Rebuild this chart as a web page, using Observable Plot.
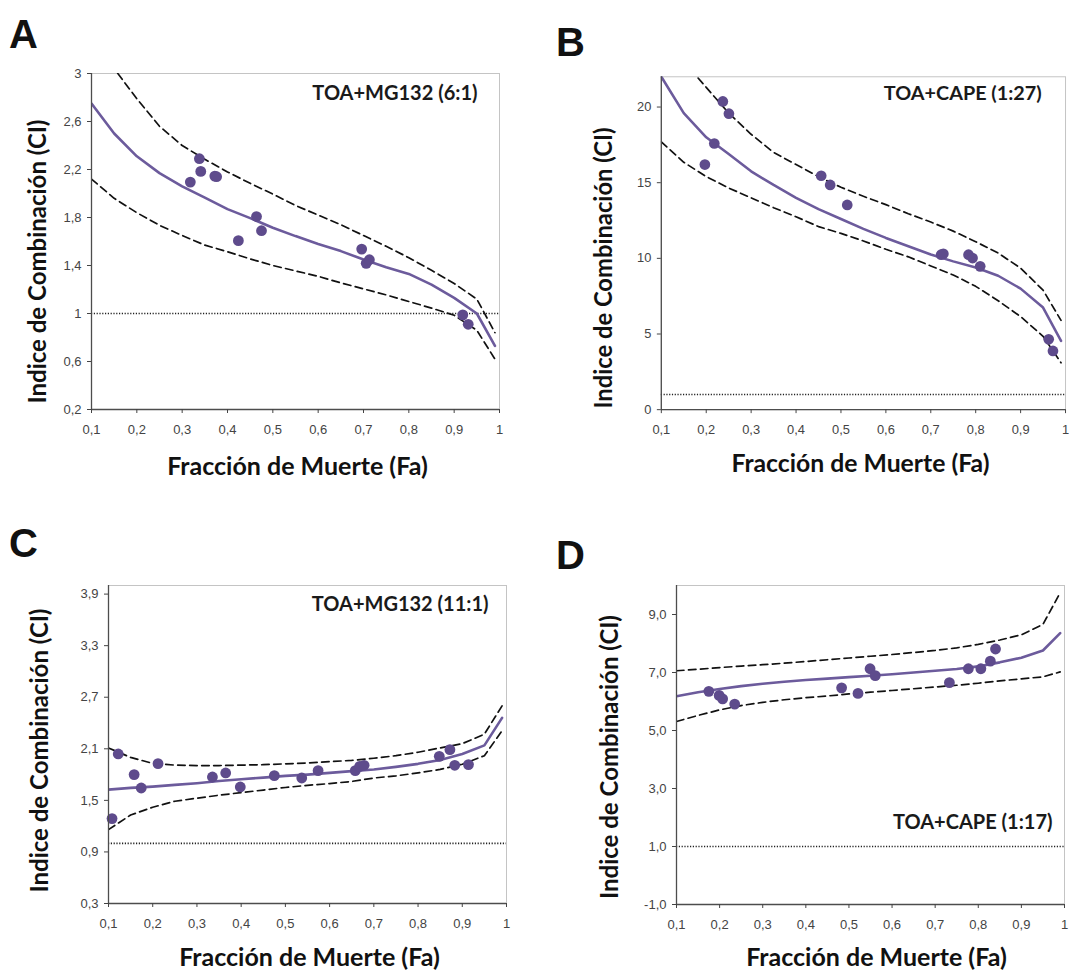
<!DOCTYPE html>
<html><head><meta charset="utf-8">
<script src="https://cdn.jsdelivr.net/npm/d3@7"></script>
<script src="https://cdn.jsdelivr.net/npm/@observablehq/plot@0.6"></script>
<style>
body{margin:0;background:#fff;overflow:hidden;}
#root{position:relative;width:1069px;height:972px;overflow:hidden;background:#fff;}
.panel{position:absolute;}
.letter{position:absolute;font-family:"Liberation Sans",Arial,sans-serif;font-weight:bold;font-size:40px;line-height:1;color:#111;}
</style></head><body><div id="root"></div>
<script>
// ---------- shared ----------
const faGrid = [0.1,0.15,0.2,0.25,0.3,0.35,0.4,0.45,0.5,0.55,0.6,0.65,0.7,0.75,0.8,0.85,0.9,0.95,0.99];
const xTicks = [0.1,0.2,0.3,0.4,0.5,0.6,0.7,0.8,0.9,1];
const xTickLabels = ["0,1","0,2","0,3","0,4","0,5","0,6","0,7","0,8","0,9","1"];
const refLine = [1];
const xTitle = "Fracción de Muerte (Fa)";
const yTitle = "Indice de Combinación (CI)";

// ---------- Panel A: TOA+MG132 (6:1) ----------
const aTag = "TOA+MG132 (6:1)";
const aYTicks = [0.2,0.6,1,1.4,1.8,2.2,2.6,3];
const aYTickLabels = ["0,2","0,6","1","1,4","1,8","2,2","2,6","3"];
const aCI    = [2.75,2.50,2.31,2.17,2.06,1.965,1.87,1.795,1.715,1.645,1.58,1.52,1.45,1.385,1.33,1.24,1.13,1.00,0.73];
const aUpper = [3.45,3.04,2.79,2.56,2.40,2.285,2.18,2.085,1.995,1.90,1.82,1.74,1.65,1.56,1.465,1.36,1.25,1.12,0.84];
const aLower = [2.12,1.96,1.84,1.735,1.65,1.57,1.515,1.455,1.40,1.355,1.31,1.255,1.205,1.155,1.10,1.045,0.985,0.86,0.62];
const aPtFa = [0.318,0.338,0.341,0.372,0.376,0.424,0.464,0.475,0.696,0.706,0.713,0.919,0.931];
const aPtCI = [2.095,2.29,2.184,2.145,2.14,1.607,1.808,1.69,1.537,1.418,1.448,0.989,0.91];

// ---------- Panel B: TOA+CAPE (1:27) ----------
const bTag = "TOA+CAPE (1:27)";
const bYTicks = [0,5,10,15,20];
const bYTickLabels = ["0","5","10","15","20"];
const bCI    = [22.0,19.6,18.0,16.9,15.75,14.85,14.0,13.25,12.6,11.95,11.35,10.8,10.25,9.8,9.4,8.85,8.0,6.75,4.55];
const bUpper = [25.0,23.0,21.3,19.6,18.2,17.0,16.2,15.4,14.7,14.1,13.55,12.95,12.4,11.8,11.1,10.35,9.35,7.9,5.9];
const bLower = [17.7,16.35,15.4,14.65,14.0,13.35,12.75,12.1,11.65,11.15,10.6,10.1,9.5,8.9,8.15,7.2,6.15,4.85,3.1];
const bPtFa = [0.197,0.218,0.237,0.2505,0.456,0.476,0.514,0.723,0.728,0.784,0.793,0.81,0.9625,0.972];
const bPtCI = [16.2,17.59,20.37,19.56,15.46,14.85,13.53,10.24,10.3,10.24,10.02,9.47,4.65,3.88];

// ---------- Panel C: TOA+MG132 (11:1) ----------
const cTag = "TOA+MG132 (11:1)";
const cYTicks = [0.3,0.9,1.5,2.1,2.7,3.3,3.9];
const cYTickLabels = ["0,3","0,9","1,5","2,1","2,7","3,3","3,9"];
const cCI    = [1.625,1.645,1.66,1.68,1.70,1.725,1.745,1.765,1.785,1.80,1.82,1.84,1.86,1.89,1.925,1.97,2.04,2.14,2.46];
const cUpper = [2.11,2.00,1.93,1.91,1.905,1.905,1.91,1.915,1.925,1.935,1.95,1.965,1.99,2.02,2.06,2.11,2.16,2.27,2.60];
const cLower = [1.16,1.33,1.42,1.49,1.525,1.56,1.59,1.62,1.65,1.675,1.695,1.72,1.76,1.785,1.82,1.86,1.92,2.02,2.31];
const cPtFa = [0.108,0.122,0.158,0.174,0.212,0.335,0.365,0.398,0.475,0.537,0.574,0.658,0.668,0.678,0.848,0.872,0.883,0.914];
const cPtCI = [1.288,2.04,1.80,1.644,1.927,1.772,1.819,1.656,1.788,1.760,1.846,1.846,1.896,1.908,2.012,2.09,1.908,1.916];

// ---------- Panel D: TOA+CAPE (1:17) ----------
const dTag = "TOA+CAPE (1:17)";
const dYTicks = [-1,1,3,5,7,9];
const dYTickLabels = ["-1,0","1,0","3,0","5,0","7,0","9,0"];
const dCI    = [6.18,6.32,6.43,6.53,6.61,6.68,6.74,6.79,6.84,6.89,6.94,7.00,7.06,7.12,7.21,7.35,7.51,7.76,8.36];
const dUpper = [7.06,7.11,7.17,7.22,7.27,7.32,7.38,7.44,7.50,7.56,7.62,7.69,7.76,7.85,7.97,8.12,8.30,8.66,9.75];
const dLower = [5.31,5.52,5.71,5.86,5.97,6.06,6.13,6.19,6.26,6.32,6.38,6.44,6.50,6.56,6.63,6.71,6.78,6.85,7.02];
const dPtFa = [0.175,0.199,0.207,0.235,0.483,0.521,0.549,0.561,0.733,0.777,0.806,0.828,0.840];
const dPtCI = [6.35,6.21,6.09,5.91,6.47,6.28,7.13,6.89,6.65,7.13,7.13,7.39,7.81];

// ---------- styles ----------
const PURPLE_LINE = "#6c5b9c";
const PURPLE_DOT = "#5e4b8c";
const AXIS = "#4d4d4d";
const TITLE_FONT = "Lato, 'Open Sans', sans-serif";

function series(ys){ return faGrid.map((fa,i)=>({fa, ci: ys[i]})); }
function points(xs, ys){ return xs.map((fa,i)=>({fa, ci: ys[i]})); }

function panel(cfg){
  const yMap = new Map(cfg.yTicks.map((t,i)=>[t, cfg.yTickLabels[i]]));
  const xMap = new Map(xTicks.map((t,i)=>[t, xTickLabels[i]]));
  return Plot.plot({
    width: cfg.width, height: cfg.height,
    marginLeft: cfg.m[0], marginTop: cfg.m[1], marginRight: cfg.m[2], marginBottom: cfg.m[3],
    style: {fontFamily: "'Liberation Sans', Arial, sans-serif", fontSize: "13px", background: "transparent", overflow: "visible"},
    x: {domain: [0.1, 1], axis: null},
    y: {domain: cfg.yDomain, axis: null},
    marks: [
      Plot.frame({stroke: "#c4c4c4", strokeWidth: 1}),
      Plot.ruleY(refLine, {stroke: "#222", strokeWidth: 1.6, strokeDasharray: "1.2,1.6"}),
      Plot.line(series(cfg.upper), {x: "fa", y: "ci", stroke: "#111", strokeWidth: 1.7, strokeDasharray: "7.5,4.5", clip: true}),
      Plot.line(series(cfg.lower), {x: "fa", y: "ci", stroke: "#111", strokeWidth: 1.7, strokeDasharray: "7.5,4.5", clip: true}),
      Plot.line(series(cfg.ci), {x: "fa", y: "ci", stroke: PURPLE_LINE, strokeWidth: 2.6, clip: true}),
      Plot.dot(points(cfg.ptFa, cfg.ptCI), {x: "fa", y: "ci", r: 5.4, fill: PURPLE_DOT, stroke: "none"}),
      Plot.ruleX([0.1], {stroke: AXIS, strokeWidth: 1.3}),
      Plot.ruleY([cfg.yDomain[0]], {stroke: AXIS, strokeWidth: 1.3}),
      Plot.axisX(xTicks, {tickSize: 4, tickPadding: 11, tickFormat: d => xMap.get(d), color: "#444", fontSize: 13, label: null}),
      Plot.axisY(cfg.yTicks, {tickSize: 4, tickPadding: 6, tickFormat: d => yMap.get(d), color: "#444", fontSize: 13, label: null}),
      Plot.text([cfg.tag], {text: d => d, frameAnchor: cfg.tagAnchor, dx: cfg.tagD[0], dy: cfg.tagD[1], textAnchor: "end", lineAnchor: "middle", fontSize: 20, fontWeight: "bold", fontFamily: TITLE_FONT, fill: "#1a1a1a"}),
      Plot.text([yTitle], {text: d => d, frameAnchor: "left", rotate: -90, dx: cfg.yT[0], dy: cfg.yT[1], textAnchor: "middle", lineAnchor: "middle", fontSize: 24, fontWeight: "bold", fontFamily: TITLE_FONT, fill: "#111"}),
      Plot.text([xTitle], {text: d => d, frameAnchor: "bottom", dx: cfg.xT[0], dy: cfg.xT[1], textAnchor: "middle", lineAnchor: "middle", fontSize: 25, fontWeight: "bold", fontFamily: TITLE_FONT, fill: "#111"})
    ]
  });
}

const panels = [
  {left: 0, top: 0, width: 534, height: 490, m: [91, 73, 35, 81], yDomain: [0.2, 3], yTicks: aYTicks, yTickLabels: aYTickLabels,
   ci: aCI, upper: aUpper, lower: aLower, ptFa: aPtFa, ptCI: aPtCI, tag: aTag, tagAnchor: "top-right", tagD: [-22, 20], yT: [-53, 20], xT: [2, 57]},
  {left: 534, top: 0, width: 540, height: 490, m: [128, 77, 4, 77], yDomain: [0, 22], yTicks: bYTicks, yTickLabels: bYTickLabels,
   ci: bCI, upper: bUpper, lower: bLower, ptFa: bPtFa, ptCI: bPtCI, tag: bTag, tagAnchor: "top-right", tagD: [-24, 17], yT: [-57, 25], xT: [-3, 55]},
  {left: 0, top: 490, width: 534, height: 482, m: [108, 95, 28, 69], yDomain: [0.3, 4.0], yTicks: cYTicks, yTickLabels: cYTickLabels,
   ci: cCI, upper: cUpper, lower: cLower, ptFa: cPtFa, ptCI: cPtCI, tag: cTag, tagAnchor: "top-right", tagD: [-18, 19], yT: [-68, 6], xT: [2, 54]},
  {left: 534, top: 490, width: 535, height: 482, m: [142, 95, 5, 68], yDomain: [-1, 10], yTicks: dYTicks, yTickLabels: dYTickLabels,
   ci: dCI, upper: dUpper, lower: dLower, ptFa: dPtFa, ptCI: dPtCI, tag: dTag, tagAnchor: "bottom-right", tagD: [-12, -82], yT: [-66, 12], xT: [6, 53]}
];

const root = document.getElementById("root");
for (const p of panels) {
  const div = document.createElement("div");
  div.className = "panel";
  div.style.left = p.left + "px";
  div.style.top = p.top + "px";
  div.appendChild(panel(p));
  root.appendChild(div);
}
const letters = [["A", 9, 14], ["B", 556, 22], ["C", 9, 523], ["D", 556, 535]];
for (const [t, x, y] of letters) {
  const d = document.createElement("div");
  d.className = "letter";
  d.textContent = t;
  d.style.left = x + "px";
  d.style.top = y + "px";
  root.appendChild(d);
}
</script></body></html>
